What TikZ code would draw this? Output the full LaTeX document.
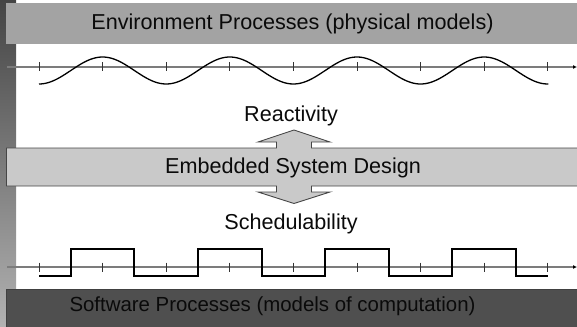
\documentclass[tikz,border=0pt]{standalone}
\usepackage{fontspec}
\setmainfont{Liberation Sans}
\usetikzlibrary{arrows.meta}
\definecolor{stripdark}{HTML}{444444}
\definecolor{striplight}{HTML}{B2B2B2}
\definecolor{envgray}{HTML}{A3A3A3}
\definecolor{designgray}{HTML}{C9C9C9}
\definecolor{softgray}{HTML}{4F4F4F}
\definecolor{edgegray}{HTML}{464646}
\definecolor{axisgray}{HTML}{7C7C7C}
\definecolor{inkgray}{HTML}{0A0A0A}
\tikzset{
  label text/.style={font=\fontsize{21.6}{26}\selectfont, text=inkgray, inner sep=0pt},
  axisline/.style={draw=axisgray, line width=1.5pt, -{Latex[length=4pt,width=4pt,color=black]}},
  tickmark/.style={draw=black!80, line width=0.8pt},
  signal/.style={draw=black, line width=1.3pt, line join=round},
  pulse/.style={draw=black, line width=2pt, line join=miter},
}
\begin{document}
\begin{tikzpicture}[x=1pt,y=-1pt]
\useasboundingbox (0,0) rectangle (577,326);

% shaded strip along the left edge
\shade[top color=stripdark, bottom color=striplight] (0,0) rectangle (16,326);

% environment band
\fill[envgray] (6,3) rectangle (580,44);
\node[label text] (env) at (292.5,23.5) {Environment Processes (physical models)};

% continuous signal on its time axis (period 127.2, i.e. 2.8302 degrees per unit)
\coordinate (ea) at (7,67);
\coordinate (eb) at (577,67);
\draw[axisline] (ea) -- (eb);
\foreach \k in {0,...,8}
  \draw[tickmark] ({39+63.6*\k},62.5) -- ({39+63.6*\k},71.5);
\draw[signal] plot[domain=39:548.4, samples=220, smooth]
  (\x,{70.5+13.5*cos(2.8302*(\x-39))});

% reactivity label
\node[label text, anchor=base] (react) at (291,121.7) {Reactivity};

% design band joined with the double arrow
\draw[fill=designgray, draw=edgegray, line width=0.9pt, line join=miter]
  (6.5,148) -- (276.5,148) -- (276.5,142) -- (258,142) -- (294,130)
  -- (330,142) -- (311.5,142) -- (311.5,148) -- (582,148) -- (582,186)
  -- (311.5,186) -- (311.5,192) -- (330,192) -- (294,203.5) -- (258,192)
  -- (276.5,192) -- (276.5,186) -- (6.5,186) -- cycle;
\node[label text] (design) at (293,167.5) {Embedded System Design};

% schedulability label
\node[label text, anchor=base] (sched) at (291,229.5) {Schedulability};

% discrete signal on its time axis
\coordinate (sa) at (7,267);
\coordinate (sb) at (577,267);
\draw[axisline] (sa) -- (sb);
\foreach \k in {0,...,8}
  \draw[tickmark] ({39+63.6*\k},262.5) -- ({39+63.6*\k},271.5);
\draw[pulse] (39,276)
  \foreach \k in {0,...,3} {
    -- ({70.8+127.2*\k},276) -- ({70.8+127.2*\k},248.5)
    -- ({134.4+127.2*\k},248.5) -- ({134.4+127.2*\k},276)
  } -- (548,276);

% software band
\draw[fill=softgray, draw=black!75, line width=0.9pt] (6.5,289) rectangle (582,330);
\node[label text, font=\fontsize{20.4}{24}\selectfont, anchor=base] (soft) at (272.5,311.5) {Software Processes (models of computation)};
\end{tikzpicture}
\end{document}
